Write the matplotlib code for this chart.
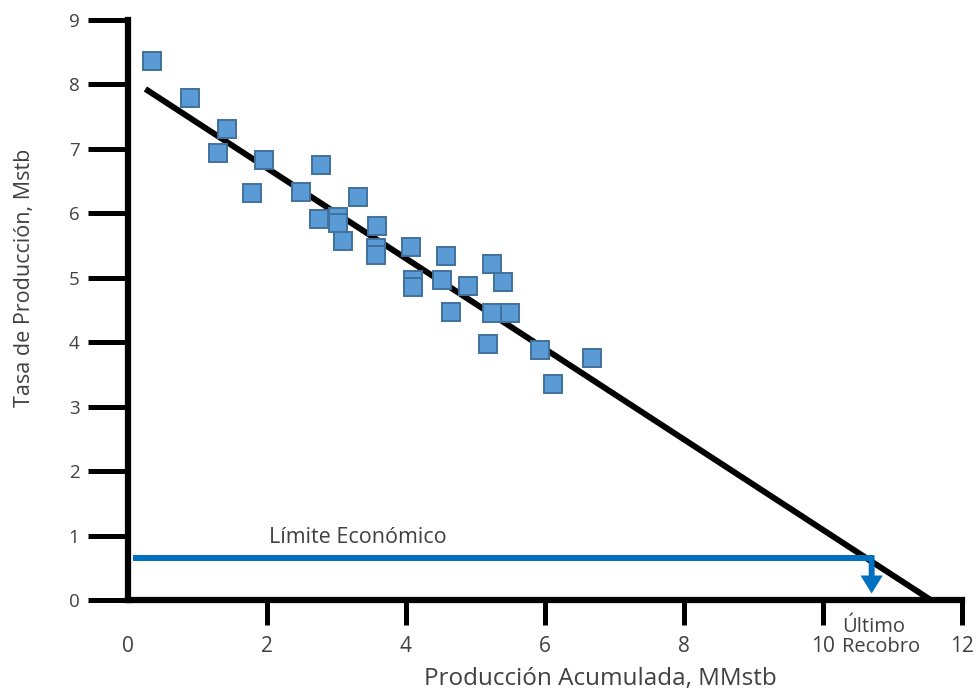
import matplotlib
matplotlib.use('Agg')
import matplotlib.pyplot as plt

plt.rcParams['font.family'] = ['Open Sans', 'DejaVu Sans']

# datos
prod_acum = [0.35, 0.89, 1.42, 1.29, 1.96, 1.78, 2.49, 2.78, 2.75, 3.02, 3.02,
             3.09, 3.31, 3.58, 3.57, 3.57, 4.07, 4.58, 4.10, 4.10, 4.52, 4.89,
             5.24, 5.40, 4.65, 5.24, 5.50, 5.18, 5.93, 6.68, 6.12]
tasa = [8.36, 7.79, 7.31, 6.94, 6.83, 6.32, 6.33, 6.75, 5.91, 5.94, 5.85,
        5.57, 6.25, 5.80, 5.46, 5.35, 5.48, 5.34, 4.97, 4.86, 4.97, 4.87,
        5.21, 4.93, 4.47, 4.45, 4.45, 3.97, 3.88, 3.76, 3.35]
trend_x = [0.25, 11.55]
trend_y = [7.93, 0.0]
limite_x = [0.07, 10.74]
limite_y = 0.65
recobro_x = 10.7
recobro_y = 0.1
x_ticks = [0, 2, 4, 6, 8, 10, 12]
y_ticks = [0, 1, 2, 3, 4, 5, 6, 7, 8, 9]

azul = '#0070C0'
gris = '#404040'

fig = plt.figure(figsize=(9.76, 6.95), dpi=100)
ax = fig.add_axes([128 / 976, 1 - 600 / 695, 834 / 976, 580 / 695])

ax.plot(trend_x, trend_y, color='black', lw=4.3, solid_capstyle='butt', zorder=2)
ax.plot(prod_acum, tasa, ls='none', marker='s', ms=13.5, mfc='#5B9BD5',
        mec='#41719C', mew=1.4, zorder=3)

# limite economico y flecha del ultimo recobro
ax.plot(limite_x, [limite_y, limite_y], color=azul, lw=4.3, solid_capstyle='butt', zorder=2)
ax.arrow(recobro_x, limite_y + 0.04, 0, recobro_y - limite_y - 0.04, width=0.085,
         head_width=0.32, head_length=0.28, length_includes_head=True,
         color=azul, lw=0, zorder=2)

ax.text(3.3, 0.97, 'Límite Económico', fontsize=15.5, ha='center', va='center', color=gris)
ax.text(10.27, -0.26, 'Último\nRecobro', fontsize=14.5, ha='left', va='top',
        color=gris, linespacing=1.0, clip_on=False)

ax.set_xlim(0, 12)
ax.set_ylim(0, 9)
ax.set_xticks(x_ticks)
ax.set_yticks(y_ticks)
for s in ['top', 'right']:
    ax.spines[s].set_visible(False)
for s in ['left', 'bottom']:
    ax.spines[s].set_linewidth(4.5)
    ax.spines[s].set_capstyle('projecting')
ax.tick_params(axis='x', length=18, width=3.6, pad=8, labelsize=15, labelcolor=gris)
ax.tick_params(axis='y', length=29, width=3.6, pad=6, labelsize=13.5, labelcolor=gris)
ax.xaxis.get_major_ticks()[0].tick1line.set_visible(False)

ax.set_xlabel('Producción Acumulada, MMstb', fontsize=17.5, color=gris)
ax.xaxis.set_label_coords(0.566, -0.116)
ax.set_ylabel('Tasa de Producción, Mstb', fontsize=15.5, color=gris)
ax.yaxis.set_label_coords(-0.112, 0.555)

fig.savefig('out.png', dpi=100)
